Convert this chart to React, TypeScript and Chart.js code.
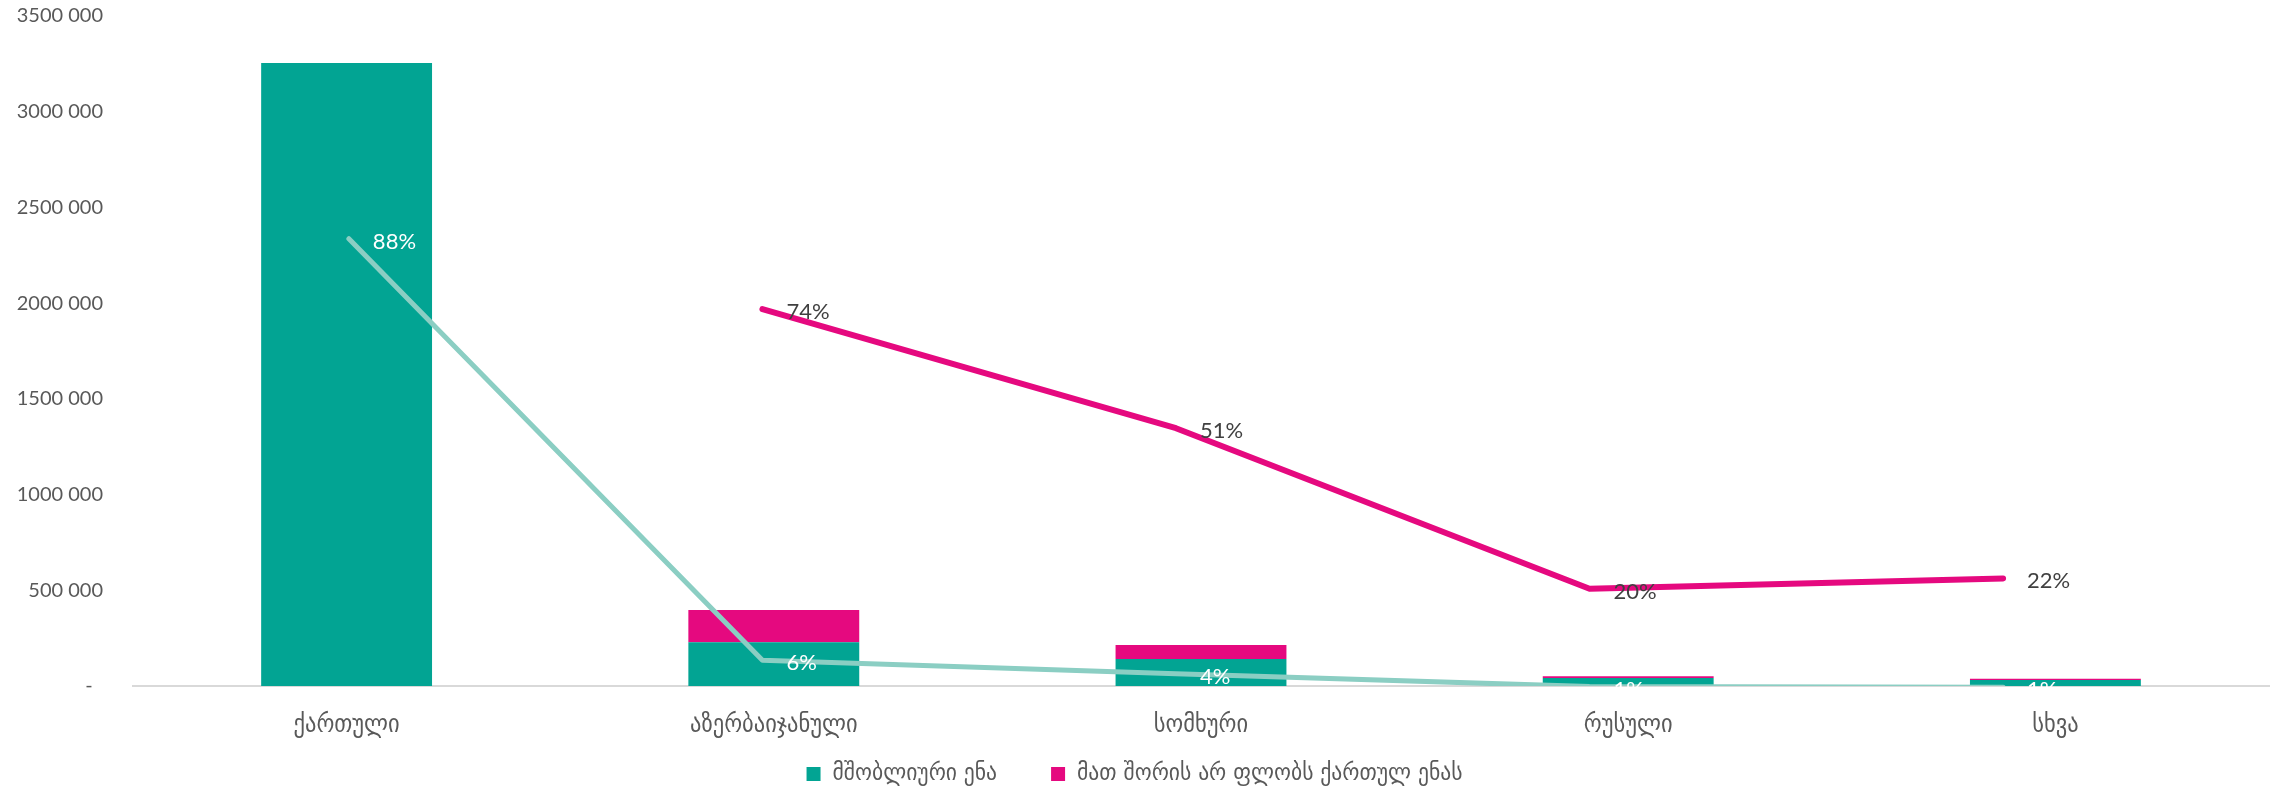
import React, { useEffect, useRef } from 'react';
import { Chart, registerables } from 'chart.js';

Chart.register(...registerables);

// ---- data ----
const categories = ['ქართული', 'აზერბაიჯანული', 'სომხური', 'რუსული', 'სხვა'];
const nativeSpeakers = [3255000, 228000, 141000, 42000, 31000];
const notSpeakingGeorgian = [null, 169000, 73000, 8500, 7000];
const nativeShare = [0.876, 0.062, 0.036, 0.011, 0.01];
const notSpeakingShare = [null, 0.74, 0.51, 0.2, 0.22];
const seriesNames = ['მშობლიური ენა', 'მათ შორის არ ფლობს ქართულ ენას'];

// ---- style ----
const TEAL = '#02A493';
const MAGENTA = '#E5097F';
const TEAL_LINE = '#8BCEC3';
const GREY = '#595959';
const DARK = '#404040';
const LATIN = "Lato, 'DejaVu Sans', sans-serif";
const GEO = "'DejaVu Sans Condensed', 'DejaVu Sans', sans-serif";

function formatTick(v: number): string {
  if (v === 0) return '-  ';
  const th = Math.floor(v / 1000);
  return `${th} ${String(v % 1000).padStart(3, '0')}`;
}

const pointLabels = {
  id: 'pointLabels',
  afterDatasetsDraw(chart: any) {
    const ctx = chart.ctx;
    chart.data.datasets.forEach((ds: any, i: number) => {
      if (ds.type !== 'line') return;
      const meta = chart.getDatasetMeta(i);
      ctx.save();
      ctx.font = `22px ${LATIN}`;
      ctx.fillStyle = ds.labelColor;
      ctx.textAlign = 'left';
      ctx.textBaseline = 'middle';
      meta.data.forEach((pt: any, j: number) => {
        const v = ds.data[j].y;
        if (v == null) return;
        ctx.fillText(Math.round(v * 100) + '%', pt.x + 24, pt.y + 3);
      });
      ctx.restore();
    });
  },
};

// legend/axis boxes fine-tuning after the layout pass
const layoutTweak = {
  id: 'layoutTweak',
  afterLayout(chart: any) {
    const x = chart.scales.x;
    if (x) {
      x.bottom = x.top + 70;
      x.height = 70;
    }
    if (chart.legend) {
      chart.legend.top += 5;
      chart.legend.bottom += 5;
    }
  },
};

export default function App() {
  const ref = useRef<HTMLCanvasElement>(null);

  useEffect(() => {
    if (!ref.current) return;
    const chart = new Chart(ref.current, {
      type: 'bar',
      data: {
        labels: categories,
        datasets: [
          {
            type: 'bar',
            label: seriesNames[0],
            data: nativeSpeakers as any,
            backgroundColor: TEAL,
            borderWidth: 0,
            xAxisID: 'x',
            yAxisID: 'y',
            grouped: false,
            order: 2,
            barPercentage: 0.4,
            categoryPercentage: 1,
          },
          {
            type: 'bar',
            label: seriesNames[1],
            data: notSpeakingGeorgian as any,
            backgroundColor: MAGENTA,
            borderWidth: 0,
            xAxisID: 'x',
            yAxisID: 'y',
            grouped: false,
            order: 2,
            barPercentage: 0.4,
            categoryPercentage: 1,
          },
          {
            type: 'line',
            label: 'share-native',
            data: nativeShare.map((v, i) => ({ x: i, y: v })) as any,
            borderColor: TEAL_LINE,
            backgroundColor: TEAL_LINE,
            borderWidth: 5,
            borderCapStyle: 'round',
            borderJoinStyle: 'round',
            pointRadius: 0,
            tension: 0,
            xAxisID: 'xl',
            yAxisID: 'y2',
            order: 0,
            labelColor: '#FFFFFF',
          } as any,
          {
            type: 'line',
            label: 'share-not-speaking',
            data: notSpeakingShare.map((v, i) => ({ x: i, y: v })) as any,
            borderColor: MAGENTA,
            backgroundColor: MAGENTA,
            borderWidth: 6,
            borderCapStyle: 'round',
            borderJoinStyle: 'round',
            pointRadius: 0,
            tension: 0,
            xAxisID: 'xl',
            yAxisID: 'y2',
            order: 1,
            labelColor: DARK,
          } as any,
        ],
      },
      options: {
        responsive: false,
        animation: false,
        layout: { padding: { left: 0, right: 8, top: 16, bottom: 0 } },
        plugins: {
          tooltip: { enabled: false },
          legend: {
            position: 'bottom',
            labels: {
              filter: (item: any) => item.datasetIndex < 2,
              boxWidth: 14,
              boxHeight: 14,
              padding: 54,
              color: GREY,
              font: { family: GEO, size: 24 },
            },
          },
        },
        scales: {
          x: {
            type: 'category',
            stacked: true,
            offset: true,
            grid: { display: false, drawTicks: false },
            border: { display: true, color: '#D9D9D9', width: 2 },
            ticks: { color: GREY, font: { family: GEO, size: 25 }, padding: 24, maxRotation: 0, autoSkip: false },
            afterFit: (s: any) => { s.height = 17; },
          },
          y: {
            type: 'linear',
            stacked: true,
            min: 0,
            max: 3500000,
            grid: { display: false, drawTicks: false },
            border: { display: false },
            ticks: {
              stepSize: 500000,
              color: GREY,
              font: { family: LATIN, size: 20 },
              padding: 30,
              callback: (v: any) => formatTick(Number(v)),
            },
            afterFit: (s: any) => { s.width = 133; s.paddingTop = 0; s.paddingBottom = 0; },
          },
          xl: { type: 'linear', display: false, offset: false, min: -0.522, max: 4.643 },
          y2: { type: 'linear', display: false, offset: false, min: 0.0122, max: 1.306 },
        },
      } as any,
      plugins: [pointLabels, layoutTweak],
    });
    return () => chart.destroy();
  }, []);

  return (
    <div style={{ position: 'fixed', left: 0, top: 0, width: 2277, height: 791, background: '#fff' }}>
      <canvas ref={ref} width={2277} height={791} style={{ display: 'block' }} />
    </div>
  );
}
